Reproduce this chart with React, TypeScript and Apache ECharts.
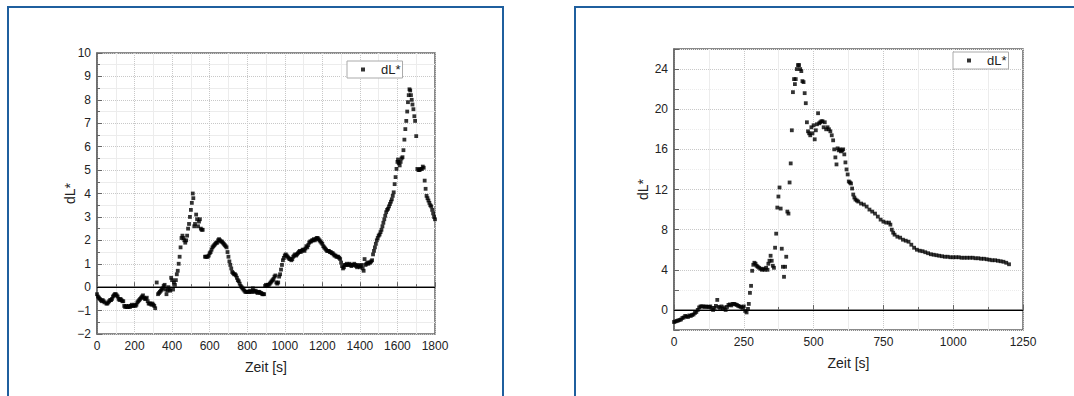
import React, { useEffect, useRef } from "react";
import * as echarts from "echarts";

// Left chart: time [s] and dL*
const leftTime = [
  0,5,10,15,20,25,30,35,40,50,55,60,65,70,75,80,85,90,95,100,105,110,115,120,125,130,135,140,
  145,150,155,160,165,170,175,180,185,190,195,200,205,210,215,220,225,230,235,240,245,250,255,260,265,
  270,275,280,285,290,295,300,305,310,318,325,330,335,340,345,350,355,360,365,370,375,380,385,390,395,
  400,405,410,415,420,425,430,435,440,445,450,455,460,465,470,475,480,485,490,495,500,505,510,513,518,
  522,528,533,538,543,548,553,558,563,
  575,580,585,590,595,600,605,610,615,620,625,630,635,640,645,650,655,660,665,670,675,680,685,690,695,
  700,705,710,715,720,725,730,735,740,745,750,755,760,765,770,775,780,785,790,795,800,805,810,815,820,
  825,830,835,840,845,850,855,860,865,870,875,880,885,890,895,900,905,910,915,920,925,930,935,940,945,
  950,955,960,965,970,975,980,985,990,995,1000,1005,1010,1015,1020,1025,1030,1035,1040,1045,1050,1055,
  1060,1065,1070,1075,1080,1085,1090,1095,1100,1105,1110,1115,1120,1125,1130,1135,1140,1145,1150,1155,
  1160,1165,1170,1175,1180,1185,1190,1195,1200,1205,1210,1215,1220,1225,1230,1235,1240,1245,1250,1255,
  1260,1265,1270,1275,1280,1285,1290,1295,1300,1305,1310,1315,1320,1325,1330,1335,1340,1345,1350,1355,
  1360,1365,1370,1375,1380,1385,1390,1395,1400,1405,1410,1415,1420,1425,1430,1435,1440,1445,1450,1455,
  1460,1465,1470,1475,1480,1485,1490,1495,1500,1505,1510,1515,1520,1525,1530,1535,1540,1545,1550,1555,
  1560,1565,1570,1575,1580,1585,1590,1595,1600,1603,1607,1612,1617,1622,1627,1632,1637,1642,1647,1652,
  1656,1660,1664,1668,1672,1676,1680,1685,1690,1694,1700,1706,1712,1718,1724,1730,1735,1740,1745,1750,
  1755,1760,1765,1770,1775,1780,1785,1790,1795,1800
];
const leftDL = [
  -0.3,-0.4,-0.45,-0.5,-0.55,-0.6,-0.55,-0.6,-0.65,-0.7,-0.7,-0.65,-0.6,-0.55,-0.55,-0.5,-0.4,-0.35,-0.3,-0.3,-0.35,-0.4,-0.5,-0.55,-0.5,-0.55,-0.6,-0.6,
  -0.8,-0.85,-0.8,-0.85,-0.85,-0.8,-0.85,-0.8,-0.75,-0.8,-0.8,-0.75,-0.8,-0.75,-0.65,-0.6,-0.55,-0.5,-0.45,-0.4,-0.35,-0.45,-0.5,-0.5,-0.45,
  -0.6,-0.7,-0.7,-0.7,-0.75,-0.7,-0.75,-0.8,-0.9,0.2,-0.3,-0.25,-0.2,-0.15,-0.1,-0.05,0.05,0.1,-0.1,-0.3,-0.15,0.0,-0.1,-0.15,0.4,
  0.3,-0.1,0.2,0.1,0.3,0.55,0.7,1.0,1.3,1.7,2.1,2.2,2.1,2.0,1.9,2.0,2.2,2.5,2.7,3.0,3.3,3.6,4.0,3.8,2.6,
  2.7,3.1,2.9,2.6,2.8,2.9,2.5,2.45,2.45,
  1.3,1.3,1.3,1.3,1.35,1.45,1.5,1.6,1.7,1.75,1.8,1.85,1.9,1.9,2.0,2.05,2.0,1.95,1.95,1.9,1.85,1.8,1.75,1.7,1.5,
  1.3,1.1,0.95,0.8,0.65,0.6,0.55,0.55,0.5,0.4,0.3,0.25,0.15,0.05,0.0,-0.05,-0.1,-0.15,-0.2,-0.2,-0.2,-0.2,-0.2,-0.15,-0.2,
  -0.2,-0.05,-0.15,-0.2,-0.15,-0.2,-0.25,-0.2,-0.2,-0.25,-0.25,-0.3,-0.3,-0.3,0.05,0.1,0.05,0.1,0.1,0.15,0.2,0.25,0.3,0.35,0.45,
  0.5,0.2,0.15,0.2,0.45,0.55,0.75,0.95,1.15,1.25,1.35,1.4,1.35,1.3,1.25,1.2,1.2,1.15,1.2,1.3,1.35,1.4,
  1.35,1.4,1.45,1.5,1.55,1.5,1.55,1.6,1.6,1.55,1.65,1.75,1.7,1.8,1.9,1.95,1.95,2.0,2.0,2.05,
  2.0,2.05,2.1,2.1,2.05,2.0,1.95,1.9,1.85,1.75,1.7,1.65,1.6,1.55,1.55,1.55,1.5,1.5,1.45,1.45,
  1.4,1.35,1.35,1.3,1.3,1.3,1.25,1.2,1.05,0.9,0.8,0.85,0.95,0.95,1.0,0.95,0.95,1.0,0.95,0.9,
  0.95,0.95,1.0,0.95,0.9,0.85,0.95,0.9,0.85,0.9,0.95,0.8,0.7,1.2,0.95,1.0,1.05,1.0,1.05,1.05,
  1.1,1.15,1.4,1.55,1.7,1.85,2.0,2.1,2.2,2.25,2.35,2.45,2.6,2.75,2.9,3.05,3.2,3.3,3.35,3.45,
  3.55,3.65,3.75,3.9,4.05,4.4,4.7,5.05,5.35,5.45,5.3,5.2,5.35,5.5,5.55,5.85,6.3,6.75,7.1,7.5,
  7.9,8.2,8.45,8.4,8.2,8.0,7.8,7.6,7.3,7.1,6.45,5.05,5.0,5.0,5.05,5.05,5.15,5.1,4.55,4.2,
  3.9,3.8,3.7,3.6,3.5,3.45,3.3,3.15,3.0,2.9
];

// Right chart: time [s] and dL*
const rightTime = [
  0,5,10,15,20,25,30,35,40,45,50,55,60,65,70,75,80,85,90,95,100,105,110,115,120,125,130,135,140,145,
  150,155,160,165,170,175,180,185,190,195,200,205,210,215,220,225,230,235,240,245,250,255,260,265,268,
  272,276,280,284,288,292,296,300,305,310,315,320,325,330,335,338,342,346,350,354,358,362,366,370,374,
  378,382,386,390,394,398,402,406,410,414,418,422,426,430,433,436,440,444,448,452,456,460,464,468,472,
  476,480,484,488,492,496,500,504,508,512,516,520,524,528,532,536,540,545,550,555,560,565,570,574,578,
  582,586,590,594,598,602,606,610,614,618,622,626,630,634,638,642,646,650,655,660,670,680,690,700,710,
  720,730,740,750,760,770,775,780,785,790,800,810,820,830,840,850,860,870,880,890,900,910,920,930,940,
  950,960,970,980,990,1000,1010,1020,1030,1040,1050,1060,1070,1080,1090,1100,1110,1120,1130,1140,1150,
  1160,1170,1180,1190,1200
];
const rightDL = [
  -1.2,-1.15,-1.1,-1.05,-1.0,-0.95,-0.8,-0.75,-0.6,-0.65,-0.7,-0.55,-0.6,-0.5,-0.45,-0.3,-0.2,0.0,0.25,0.35,0.35,0.35,0.3,0.35,0.3,0.3,0.35,0.2,0.0,0.2,
  0.4,1.0,0.3,0.2,0.35,0.1,0.25,0.0,0.3,0.5,0.55,0.45,0.6,0.6,0.55,0.5,0.4,0.35,0.3,0.2,0.35,-0.1,-0.25,0.1,0.6,
  1.7,2.4,3.9,4.5,4.7,4.6,4.4,4.3,4.2,4.1,4.0,4.1,4.0,4.2,4.0,4.6,4.9,5.4,4.9,4.4,4.2,6.2,7.6,10.2,11.3,
  12.2,10.1,6.1,4.3,3.3,4.3,5.3,9.8,9.6,12.7,14.6,17.9,21.7,23.0,22.5,23.0,24.0,24.4,24.4,24.0,23.8,22.8,22.7,21.6,20.6,
  18.7,17.8,17.6,17.4,18.2,17.6,18.4,17.0,17.9,18.5,19.6,18.6,18.7,18.8,18.8,18.2,18.7,18.0,18.2,18.0,17.8,17.4,16.9,16.0,15.2,
  14.5,16.1,15.9,16.0,15.8,15.9,16.0,15.5,14.7,14.0,13.5,12.8,12.7,12.6,12.1,11.5,11.2,11.0,10.9,10.8,10.6,10.5,10.3,10.0,9.8,
  9.6,9.3,9.0,8.8,8.7,8.7,8.5,8.0,7.7,7.5,7.3,7.2,7.0,6.9,6.8,6.5,6.2,6.0,5.9,5.85,5.75,5.65,5.55,5.5,5.45,
  5.4,5.35,5.3,5.3,5.25,5.25,5.25,5.25,5.2,5.2,5.2,5.2,5.2,5.15,5.15,5.1,5.1,5.05,5.0,4.95,4.95,
  4.9,4.85,4.8,4.7,4.55
];

const leftXTicks = { min: 0, max: 1800, interval: 200 };
const leftYTicks = { min: -2, max: 10, interval: 1 };
const rightXTicks = { min: 0, max: 1250, interval: 250 };
const rightYTicks = { min: -2, max: 26, interval: 2, labelEvery: 4 };

const seriesName = "dL*";
const xTitle = "Zeit [s]";
const yTitle = "dL*";

const FONT = "'Liberation Sans', Arial, sans-serif";

function zip(a: number[], b: number[]) {
  return a.map((v, i) => [v, b[i]]);
}

const fmtNum = (v: number) => (v < 0 ? "\u2212" + Math.abs(v) : String(v));

export default function App() {
  const ref = useRef<HTMLDivElement>(null);
  useEffect(() => {
    document.body.style.margin = "0";
    const chart = echarts.init(ref.current!, null, { renderer: "svg" });
    const axisCommon = {
      axisLine: { show: true, lineStyle: { color: "#666", width: 1.5 } },
      axisTick: { show: true, inside: true, length: 5, lineStyle: { color: "#666" } },
      minorTick: { show: true, splitNumber: 2, length: 3, lineStyle: { color: "#666" } },
      axisLabel: { color: "#222", fontSize: 12, fontFamily: FONT, margin: 6, showMinLabel: true, showMaxLabel: true, formatter: fmtNum },
      splitLine: { show: true, lineStyle: { color: "#c8c8c8", type: "dotted", width: 1 } },
      minorSplitLine: { show: true, lineStyle: { color: "#ececec", width: 1 } },
      nameLocation: "middle",
      nameMoveOverlap: false,
      nameTextStyle: { color: "#222", fontSize: 14, fontFamily: FONT },
    };
    const legendCommon = {
      data: [seriesName],
      icon: "rect",
      itemWidth: 4,
      itemHeight: 4,
      padding: [2, 2, 2, 14],
      borderColor: "#aaa",
      borderWidth: 1,
      backgroundColor: "#fff",
      selectedMode: false,
      textStyle: { color: "#222", fontSize: 13, fontFamily: FONT, padding: [0, 0, 0, 11] },
    };
    const zeroLine = {
      silent: true,
      symbol: "none",
      label: { show: false },
      lineStyle: { color: "#000", width: 1, type: "solid" },
      data: [{ yAxis: 0 }],
    };
    chart.setOption({
      animation: false,
      backgroundColor: "#fff",
      textStyle: { fontFamily: FONT },
      graphic: [
        { type: "rect", shape: { x: 8, y: 7, width: 495, height: 420 }, style: { fill: "none", stroke: "#1f5f9e", lineWidth: 2 } },
        { type: "rect", shape: { x: 575, y: 7, width: 540, height: 420 }, style: { fill: "none", stroke: "#1f5f9e", lineWidth: 2 } },
      ],
      legend: [
        { ...legendCommon, left: 347, top: 61 },
        { ...legendCommon, left: 953, top: 52 },
      ],
      grid: [
        { left: 97, top: 53, width: 338, height: 281, show: true, borderColor: "#666", borderWidth: 1.5, backgroundColor: "transparent" },
        { left: 674, top: 49, width: 349, height: 281, show: true, borderColor: "#666", borderWidth: 1.5, backgroundColor: "transparent" },
      ],
      xAxis: [
        { ...axisCommon, type: "value", gridIndex: 0, ...leftXTicks, name: xTitle, nameGap: 26 },
        { ...axisCommon, type: "value", gridIndex: 1, ...rightXTicks, name: xTitle, nameGap: 26 },
      ],
      yAxis: [
        { ...axisCommon, type: "value", gridIndex: 0, ...leftYTicks, name: yTitle, nameGap: 20, nameRotate: 90 },
        {
          ...axisCommon, type: "value", gridIndex: 1,
          min: rightYTicks.min, max: rightYTicks.max, interval: rightYTicks.interval,
          name: yTitle, nameGap: 24, nameRotate: 90,
          minorTick: { show: false },
          minorSplitLine: { show: false },
          splitLine: { show: true, lineStyle: { color: ["#ececec", "#c8c8c8"], type: "dotted", width: 1 } },
          axisLabel: {
            ...axisCommon.axisLabel,
            formatter: (v: number) => (v % rightYTicks.labelEvery === 0 && v >= 0 && v <= 24 ? String(v) : ""),
          },
        },
      ],
      series: [
        {
          name: seriesName, type: "scatter", xAxisIndex: 0, yAxisIndex: 0,
          data: zip(leftTime, leftDL), symbol: "rect", symbolSize: 3.8,
          itemStyle: { color: "#000" }, markLine: zeroLine,
        },
        {
          name: seriesName, type: "scatter", xAxisIndex: 1, yAxisIndex: 1,
          data: zip(rightTime, rightDL), symbol: "rect", symbolSize: 3.8,
          itemStyle: { color: "#000" }, markLine: zeroLine,
        },
      ],
    });
    return () => chart.dispose();
  }, []);
  return <div ref={ref} style={{ width: 1074, height: 396 }} />;
}
